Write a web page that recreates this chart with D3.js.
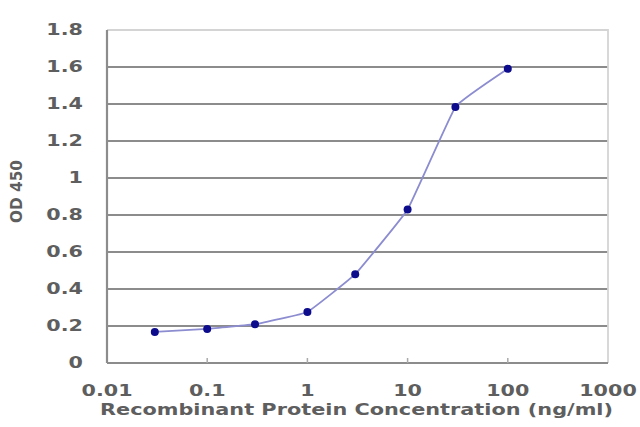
<!DOCTYPE html>
<html>
<head>
<meta charset="utf-8">
<style>
  body { margin: 0; background: #fff; }
  text { font-family: "DejaVu Sans", Verdana, sans-serif; fill: #5e5e5e; }
</style>
</head>
<body>
<svg id="chart"></svg>
<script src="https://cdn.jsdelivr.net/npm/d3@7"></script>
<script>
// concentrations (ng/ml) and OD 450 readings
let concentrations = [0.03, 0.1, 0.3, 1, 3, 10, 30, 100];
let odValues = [0.168, 0.184, 0.21, 0.276, 0.48, 0.83, 1.384, 1.59];
let xTicks = [0.01, 0.1, 1, 10, 100, 1000];
let yTicks = [0, 0.2, 0.4, 0.6, 0.8, 1, 1.2, 1.4, 1.6, 1.8];

let width = 640, height = 427;
let margin = {top: 30, right: 32, bottom: 64, left: 107};
let stretch = 1.38; // the original labels are drawn wide

let svg = d3.select("#chart").attr("width", width).attr("height", height);

let x = d3.scaleLog().domain([0.01, 1000]).range([margin.left, width - margin.right]);
let y = d3.scaleLinear().domain([0, 1.8]).range([height - margin.bottom, margin.top]);

// gridlines
svg.append("g")
    .selectAll("line")
    .data(yTicks.slice(1, -1))
    .enter()
    .append("line")
    .attr("x1", x(0.01)).attr("x2", x(1000))
    .attr("y1", d => y(d)).attr("y2", d => y(d))
    .attr("stroke", "#8c8c8c").attr("stroke-width", 1.8);

// frame: light top/right
svg.append("path")
    .attr("d", `M${x(0.01)},${y(1.8)}H${x(1000)}V${y(0)}`)
    .attr("fill", "none").attr("stroke", "#d4d4d4").attr("stroke-width", 1.8);

// axes
svg.append("line")
    .attr("x1", x(0.01)).attr("x2", x(0.01)).attr("y1", y(0)).attr("y2", y(1.8))
    .attr("stroke", "#8c8c8c").attr("stroke-width", 2.2);
svg.append("line")
    .attr("x1", x(0.01)).attr("x2", x(1000)).attr("y1", y(0)).attr("y2", y(0))
    .attr("stroke", "#8c8c8c").attr("stroke-width", 2.2);

// small x ticks
svg.append("g")
    .selectAll("line")
    .data(xTicks.slice(1, -1))
    .enter()
    .append("line")
    .attr("x1", d => x(d)).attr("x2", d => x(d))
    .attr("y1", y(0)).attr("y2", y(0) - 5)
    .attr("stroke", "#aaa").attr("stroke-width", 1.5);

// y tick labels
svg.append("g")
    .selectAll("text")
    .data(yTicks)
    .enter()
    .append("text")
    .attr("transform", d => `translate(83,${y(d) + 5}) scale(${stretch},1)`)
    .attr("text-anchor", "end")
    .attr("font-size", 15).attr("font-weight", "bold")
    .text(d => d);

// x tick labels
svg.append("g")
    .selectAll("text")
    .data(xTicks)
    .enter()
    .append("text")
    .attr("transform", d => `translate(${x(d)},396) scale(${stretch},1)`)
    .attr("text-anchor", "middle")
    .attr("font-size", 15).attr("font-weight", "bold")
    .text(d => d);

// axis titles
svg.append("text")
    .attr("x", 100).attr("y", 415)
    .attr("textLength", 513).attr("lengthAdjust", "spacingAndGlyphs")
    .attr("font-size", 15).attr("font-weight", "bold")
    .text("Recombinant Protein Concentration (ng/ml)");

svg.append("text")
    .attr("transform", "translate(22,223) rotate(-90)")
    .attr("textLength", 63).attr("lengthAdjust", "spacingAndGlyphs")
    .attr("font-size", 15).attr("font-weight", "bold")
    .text("OD 450");

// curve
let points = concentrations.map((c, i) => [c, odValues[i]]);
let line = d3.line()
    .x(d => x(d[0])).y(d => y(d[1]))
    .curve(d3.curveCardinal.tension(0.75));

svg.append("path")
    .datum(points)
    .attr("d", line)
    .attr("fill", "none")
    .attr("stroke", "#8c8cd0")
    .attr("stroke-width", 1.8);

svg.append("g")
    .selectAll("circle")
    .data(points)
    .enter()
    .append("circle")
    .attr("cx", d => x(d[0])).attr("cy", d => y(d[1]))
    .attr("r", 4)
    .attr("fill", "#0c0c8c");
</script>
</body>
</html>
